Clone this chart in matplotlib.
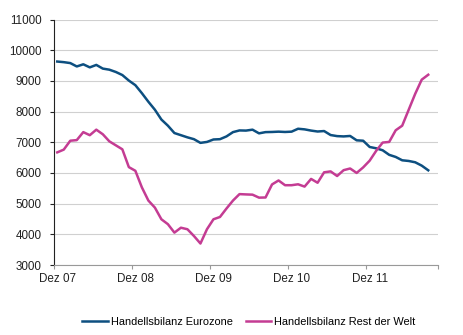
import numpy as np
import matplotlib
matplotlib.use('Agg')
import matplotlib.pyplot as plt

plt.rcParams['font.family'] = ['Liberation Sans', 'DejaVu Sans']
plt.rcParams['font.size'] = 8.4

# monatswerte ab Dez 07
eurozone = [9630, 9610, 9580, 9470, 9540, 9440, 9520, 9400, 9365, 9290,
            9190, 9010, 8860, 8600, 8320, 8060, 7740, 7540, 7300, 7230,
            7160, 7100, 6980, 7010, 7090, 7100, 7190, 7330, 7385, 7380,
            7410, 7290, 7330, 7335, 7345, 7335, 7345, 7440, 7420, 7380,
            7350, 7365, 7235, 7200, 7190, 7205, 7063, 7050, 6846, 6803,
            6738, 6590, 6521, 6412, 6390, 6347, 6238, 6086]
rest_welt = [6670, 6760, 7050, 7070, 7330, 7230, 7410, 7260, 7030, 6900,
             6770, 6190, 6070, 5530, 5100, 4870, 4490, 4330, 4055, 4215,
             4165, 3945, 3700, 4165, 4490, 4565, 4840, 5100, 5310, 5300,
             5292, 5195, 5200, 5625, 5755, 5600, 5600, 5630, 5555, 5805,
             5680, 6020, 6050, 5900, 6090, 6145, 6000, 6180, 6400, 6720,
             6990, 7010, 7390, 7540, 8060, 8580, 9040, 9200]
tick_labels = ['Dez 07', 'Dez 08', 'Dez 09', 'Dez 10', 'Dez 11']

x = np.arange(len(eurozone)) + 0.5

fig = plt.figure(figsize=(4.63, 3.35), dpi=100)
ax = fig.add_axes([54/463, 1-265/335, (438-54)/463, (265-19.5)/335])

ax.plot(x, eurozone, color='#0d4f80', lw=1.8, label='Handellsbilanz Eurozone')
ax.plot(x, rest_welt, color='#c43c93', lw=1.8, label='Handellsbilanz Rest der Welt')

ax.set_xlim(0, 59)
ax.set_ylim(3000, 11000)
ax.set_yticks(range(3000, 11001, 1000))
ax.yaxis.grid(True, color='#d0d0d0', lw=0.8)
ax.set_axisbelow(True)

ax.set_xticks([0, 12, 24, 36, 48, 59])
ax.set_xticklabels([])
ax.set_xticks([0.5, 12.5, 24.5, 36.5, 48.5], minor=True)
ax.set_xticklabels(tick_labels, minor=True)
ax.tick_params(axis='x', which='major', length=3, color='#999999', direction='out')
ax.tick_params(axis='x', which='minor', length=0, pad=6, colors='#222222')
ax.tick_params(axis='y', length=3, pad=6, colors='#222222')

for s in ['top', 'right']:
    ax.spines[s].set_visible(False)
ax.spines['left'].set_color('#222222')
ax.spines['bottom'].set_color('#999999')

fig.legend(loc='center', bbox_to_anchor=(249/463, 1-322/335), ncol=2, frameon=False,
           fontsize=7.9, handlelength=2.3, handletextpad=0.3, columnspacing=1.2)

fig.savefig('out.png', dpi=100)
